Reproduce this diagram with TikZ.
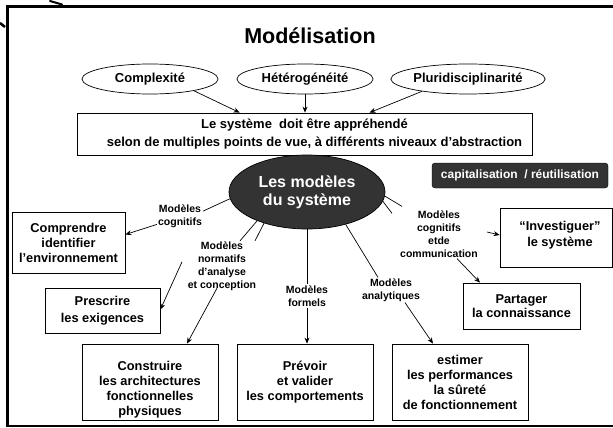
\documentclass[tikz,border=0pt]{standalone}
\usepackage{fontspec}
\setmainfont{Liberation Sans}
\usetikzlibrary{shapes.geometric,arrows.meta,calc}

\definecolor{darkfill}{RGB}{51,51,51}

\tikzset{
  lbl/.style={align=center, inner sep=1pt, font=\fontsize{10.5}{13}\selectfont\bfseries},
  topell/.style={draw, ellipse, line width=0.7pt, minimum width=136pt, minimum height=30pt,
    inner sep=0pt, font=\fontsize{13}{15}\selectfont\bfseries},
  framebox/.style={draw, line width=0.8pt, inner sep=0pt, align=center,
    font=\fontsize{12.8}{15}\selectfont\bfseries},
  boxtext/.style={align=center, inner sep=0pt, font=\fontsize{12.8}{15}\selectfont\bfseries},
  arr/.style={-{Stealth[length=6pt,width=5pt]}, line width=0.7pt},
  link/.style={line width=0.7pt},
}

\begin{document}
\begin{tikzpicture}[x=1pt, y=-1pt]
\useasboundingbox (0,0) rectangle (613,428);

% outer frame, open on the right
\draw[line width=2.5pt] (613,6.5) -| (7.3,426) -- (613,426);
% pen strokes in the top left corner
\draw[line width=2pt, line cap=round] (50,1) -- (62,4.5);
\draw[line width=2.5pt] (0,23) -- (5,27);

% title
\node[font=\fontsize{21.5}{24}\selectfont\bfseries] (title) at (310,36) {Modélisation};

% three characteristics
\node[topell] (complexite) at (150,79) {Complexité};
\node[topell] (heterog) at (305,79) {Hétérogénéité};
\node[topell] (pluri) at (468,79) {Pluridisciplinarité};

% statement box
\node[framebox, minimum width=455pt, minimum height=42pt,
      font=\fontsize{13}{18}\selectfont\bfseries] (sysbox) at (304.5,134)
  {Le système\ \ doit être appréhendé\\\hspace*{20pt}selon de multiples points de vue, à différents niveaux d’abstraction};

\draw[arr] (complexite.-15) -- ([xshift=163pt]sysbox.north west);
\draw[arr] (heterog.south) -- (heterog.south |- sysbox.north);
\draw[arr] (pluri.195) -- ([xshift=293pt]sysbox.north west);

% central ellipse
\node[draw, ellipse, fill=darkfill, line width=0.7pt, minimum width=156pt, minimum height=74pt,
      inner sep=0pt, text=white, align=center, font=\fontsize{16}{18}\selectfont\bfseries]
  (models) at (307,192) {Les modèles\\du système};

% capitalisation banner
\node[draw=black, fill=darkfill, rounded corners=3pt, minimum width=176pt, minimum height=25pt,
      inner sep=0pt, text=white, font=\fontsize{12}{14}\selectfont\bfseries]
  (capital) at (520,175.5) {capitalisation\ \ / réutilisation};

% goal boxes
\node[framebox, minimum width=113pt, minimum height=61pt] (comprendre) at (68.5,242.5)
  {Comprendre\\identifier\\l’environnement};
\node[framebox, minimum width=115pt, minimum height=45pt,
      font=\fontsize{12.8}{17}\selectfont\bfseries] (prescrire) at (102.5,310.5)
  {Prescrire\\les exigences};
\node[framebox, minimum width=136pt, minimum height=76pt] (construire) at (150,382) {};
\node[boxtext] (construire-txt) at (150,390)
  {Construire\\les architectures\\fonctionnelles\\physiques};
\node[framebox, minimum width=136pt, minimum height=76pt] (prevoir) at (305,382)
  {Prévoir\\et valider\\les comportements};
\node[framebox, minimum width=136pt, minimum height=76pt] (estimer) at (460,382)
  {estimer\\les performances\\la sûreté\\de fonctionnement};
\node[framebox, minimum width=112pt, minimum height=59pt] (invest) at (556,237.5) {};
\node[boxtext, font=\fontsize{12.8}{16}\selectfont\bfseries] (invest-txt) at (560,235)
  {“Investiguer”\\le système};
\node[framebox, minimum width=117pt, minimum height=46pt,
      font=\fontsize{12.8}{14}\selectfont\bfseries] (partager) at (521.5,306)
  {Partager\\la connaissance};

% model kinds
\node[lbl] (cog) at (180,216) {Modèles\\cognitifs};
\node[lbl] (norm) at (222,266.5) {Modèles\\normatifs\\d'analyse\\et conception};
\node[lbl] (formels) at (307,296) {Modèles\\formels};
\node[lbl] (anal) at (391,290) {Modèles\\analytiques};
\node[lbl] (comm) at (439,234) {Modèles\\cognitifs\\etde\\communication};

% cognitive models
\draw[link] (models.185) -- (cog.12);
\draw[arr] (cog.200) -- (comprendre.8);

% normative models
\draw[link] (models.210) -- ([xshift=18pt]norm.north);
\draw[link] (models.216) -- ([xshift=33pt]norm.north);
\draw[arr] ([xshift=-40pt,yshift=-21pt]norm.north) -- ([yshift=1pt]prescrire.east);
\draw[arr] ([xshift=-5pt,yshift=4pt]norm.south) -- ([xshift=37pt]construire.north);

% formal models
\draw[link] (models.south) -- (formels.north);
\draw[arr] (formels.south) -- (formels.south |- prevoir.north);

% analytical models
\draw[link] (models.-40) -- ([xshift=-13pt]anal.north);
\draw[arr] ([xshift=14pt]anal.south) -- ([xshift=-27pt]estimer.north);

% cognitive and communication models
\draw[link] (models.-3) -- ([xshift=3pt,yshift=3pt]comm.north west);
\draw[link] (models.-7) -- ([xshift=-7pt,yshift=-4pt]comm.north west);
\draw[arr] ([xshift=8pt,yshift=2pt]comm.east) -- ([yshift=2.5pt]invest.west);
\draw[arr] ([xshift=18pt]comm.south) -- ([xshift=-41.5pt]partager.north);
\end{tikzpicture}
\end{document}
